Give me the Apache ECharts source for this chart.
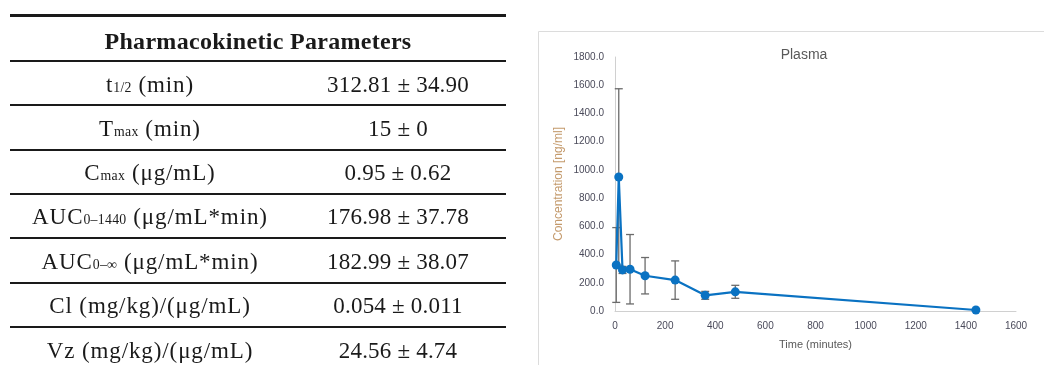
<!DOCTYPE html>
<html>
<head>
<meta charset="utf-8">
<script src="https://cdn.jsdelivr.net/npm/echarts@6/dist/echarts.min.js"></script>
<style>
  html, body { margin: 0; padding: 0; background: #fff; }
  #wrap { position: relative; width: 1044px; height: 365px; overflow: hidden; }
  #chart { position: absolute; left: 0; top: 0; width: 1044px; height: 365px; }
  .rule { position: absolute; left: 10px; width: 496px; background: #1a1a1a; }
  .cell { position: absolute; text-align: center; font-family: "Liberation Serif", "DejaVu Serif", serif; font-size: 23px; color: #1a1a1a; white-space: nowrap; }
  .lab { letter-spacing: 0.9px; }
  .val { letter-spacing: 0.2px; }
  .sub { font-size: 0.6em; letter-spacing: 0.3px; }
</style>
</head>
<body>
<div id="wrap">
  <div id="chart"></div>
  <div id="table"></div>
</div>
<script>
// ---- Table data ----
const tableTitle = "Pharmacokinetic Parameters";
const paramLabels = [
  "t<span class='sub'>1/2</span> (min)",
  "T<span class='sub'>max</span> (min)",
  "C<span class='sub'>max</span> (μg/mL)",
  "AUC<span class='sub'>0–1440</span> (μg/mL*min)",
  "AUC<span class='sub'>0–∞</span> (μg/mL*min)",
  "Cl (mg/kg)/(μg/mL)",
  "Vz (mg/kg)/(μg/mL)"
];
const paramValues = [
  "312.81 ± 34.90",
  "15 ± 0",
  "0.95 ± 0.62",
  "176.98 ± 37.78",
  "182.99 ± 38.07",
  "0.054 ± 0.011",
  "24.56 ± 4.74"
];

// ---- Chart data ----
const chartTitle = "Plasma";
const timeMin = [5, 15, 30, 60, 120, 240, 360, 480, 1440];
const concentration = [326, 950, 291, 296, 250, 219, 111, 136, 7];
const stdDev = [265, 625, 25, 246, 129, 136, 28, 46, 3];
const yTicksMax = 1800;
const xTicksMax = 1600;

// ---- Build table ----
(function () {
  const t = document.getElementById('table');
  const rules = [
    { y: 14, h: 3 }, { y: 60, h: 2 }, { y: 104, h: 1.5 }, { y: 149, h: 1.5 },
    { y: 193, h: 1.5 }, { y: 237, h: 1.5 }, { y: 282, h: 1.5 }, { y: 326, h: 1.5 }
  ];
  rules.forEach(r => {
    const d = document.createElement('div');
    d.className = 'rule';
    d.style.top = r.y + 'px';
    d.style.height = r.h + 'px';
    t.appendChild(d);
  });
  const head = document.createElement('div');
  head.className = 'cell';
  head.style.left = '10px'; head.style.width = '496px';
  head.style.top = '25px'; head.style.lineHeight = '32px';
  head.style.fontWeight = 'bold';
  head.style.fontSize = '24px';
  head.style.letterSpacing = '0.3px';
  head.textContent = tableTitle;
  t.appendChild(head);
  const centers = [85, 129, 173, 217, 262, 306, 351];
  paramLabels.forEach((lab, i) => {
    const a = document.createElement('div');
    a.className = 'cell lab';
    a.style.left = '0px'; a.style.width = '300px';
    a.style.top = (centers[i] - 15) + 'px'; a.style.lineHeight = '30px';
    a.innerHTML = lab;
    t.appendChild(a);
    const b = document.createElement('div');
    b.className = 'cell val';
    b.style.left = '298px'; b.style.width = '200px';
    b.style.top = (centers[i] - 15) + 'px'; b.style.lineHeight = '30px';
    b.textContent = paramValues[i];
    t.appendChild(b);
  });
})();

// ---- Chart ----
const chart = echarts.init(document.getElementById('chart'), null, { renderer: 'canvas' });
const points = timeMin.map((t, i) => [t, concentration[i]]);
const errData = timeMin.map((t, i) => [t, concentration[i] - stdDev[i], concentration[i] + stdDev[i]]);
const txt = '#595959';

chart.setOption({
  animation: false,
  backgroundColor: 'transparent',
  title: {
    text: chartTitle,
    left: 799, top: 43, textAlign: 'center',
    textStyle: { fontFamily: 'Liberation Sans', fontSize: 14, fontWeight: 'normal', color: txt }
  },
  graphic: [{
    type: 'rect',
    shape: { x: 538.5, y: 31.5, width: 600, height: 400 },
    style: { fill: 'none', stroke: '#dcdcdc', lineWidth: 1 },
    z: -1
  }],
  grid: { left: 615, top: 57, right: 28, bottom: 54, containLabel: false },
  xAxis: {
    type: 'value', min: 0, max: xTicksMax, interval: 200,
    name: 'Time (minutes)', nameLocation: 'middle', nameGap: 28,
    nameTextStyle: { fontFamily: 'Liberation Sans', fontSize: 11, color: txt },
    axisLine: { show: true, lineStyle: { color: '#d0d0d0', width: 1 } },
    axisTick: { show: false },
    splitLine: { show: false },
    axisLabel: { margin: 10, fontFamily: 'Liberation Sans', fontSize: 10, color: '#4a4a5a',
      formatter: v => String(v) }
  },
  yAxis: {
    type: 'value', min: 0, max: yTicksMax, interval: 200,
    name: 'Concentration [ng/ml]', nameLocation: 'middle', nameGap: 50,
    nameTextStyle: { fontFamily: 'Liberation Sans', fontSize: 12, color: '#c49a6c' },
    axisLine: { show: true, lineStyle: { color: '#d0d0d0', width: 1 } },
    axisTick: { show: false },
    splitLine: { show: false },
    axisLabel: { margin: 11, fontFamily: 'Liberation Sans', fontSize: 10, color: '#4a4a5a',
      formatter: v => v.toFixed(1) }
  },
  series: [
    {
      type: 'custom',
      z: 1,
      data: errData,
      renderItem: function (params, api) {
        const x = api.value(0);
        const lo = api.coord([x, api.value(1)]);
        const hi = api.coord([x, api.value(2)]);
        const w = 4;
        const st = { stroke: '#6b6b6b', lineWidth: 1.3 };
        return {
          type: 'group',
          children: [
            { type: 'line', shape: { x1: hi[0], y1: hi[1], x2: lo[0], y2: lo[1] }, style: st },
            { type: 'line', shape: { x1: hi[0] - w, y1: hi[1], x2: hi[0] + w, y2: hi[1] }, style: st },
            { type: 'line', shape: { x1: lo[0] - w, y1: lo[1], x2: lo[0] + w, y2: lo[1] }, style: st }
          ]
        };
      }
    },
    {
      type: 'line',
      z: 3,
      data: points,
      symbol: 'circle',
      symbolSize: 9,
      lineStyle: { color: '#0a72c2', width: 2.2 },
      itemStyle: { color: '#0a72c2' }
    }
  ]
});
</script>
</body>
</html>
